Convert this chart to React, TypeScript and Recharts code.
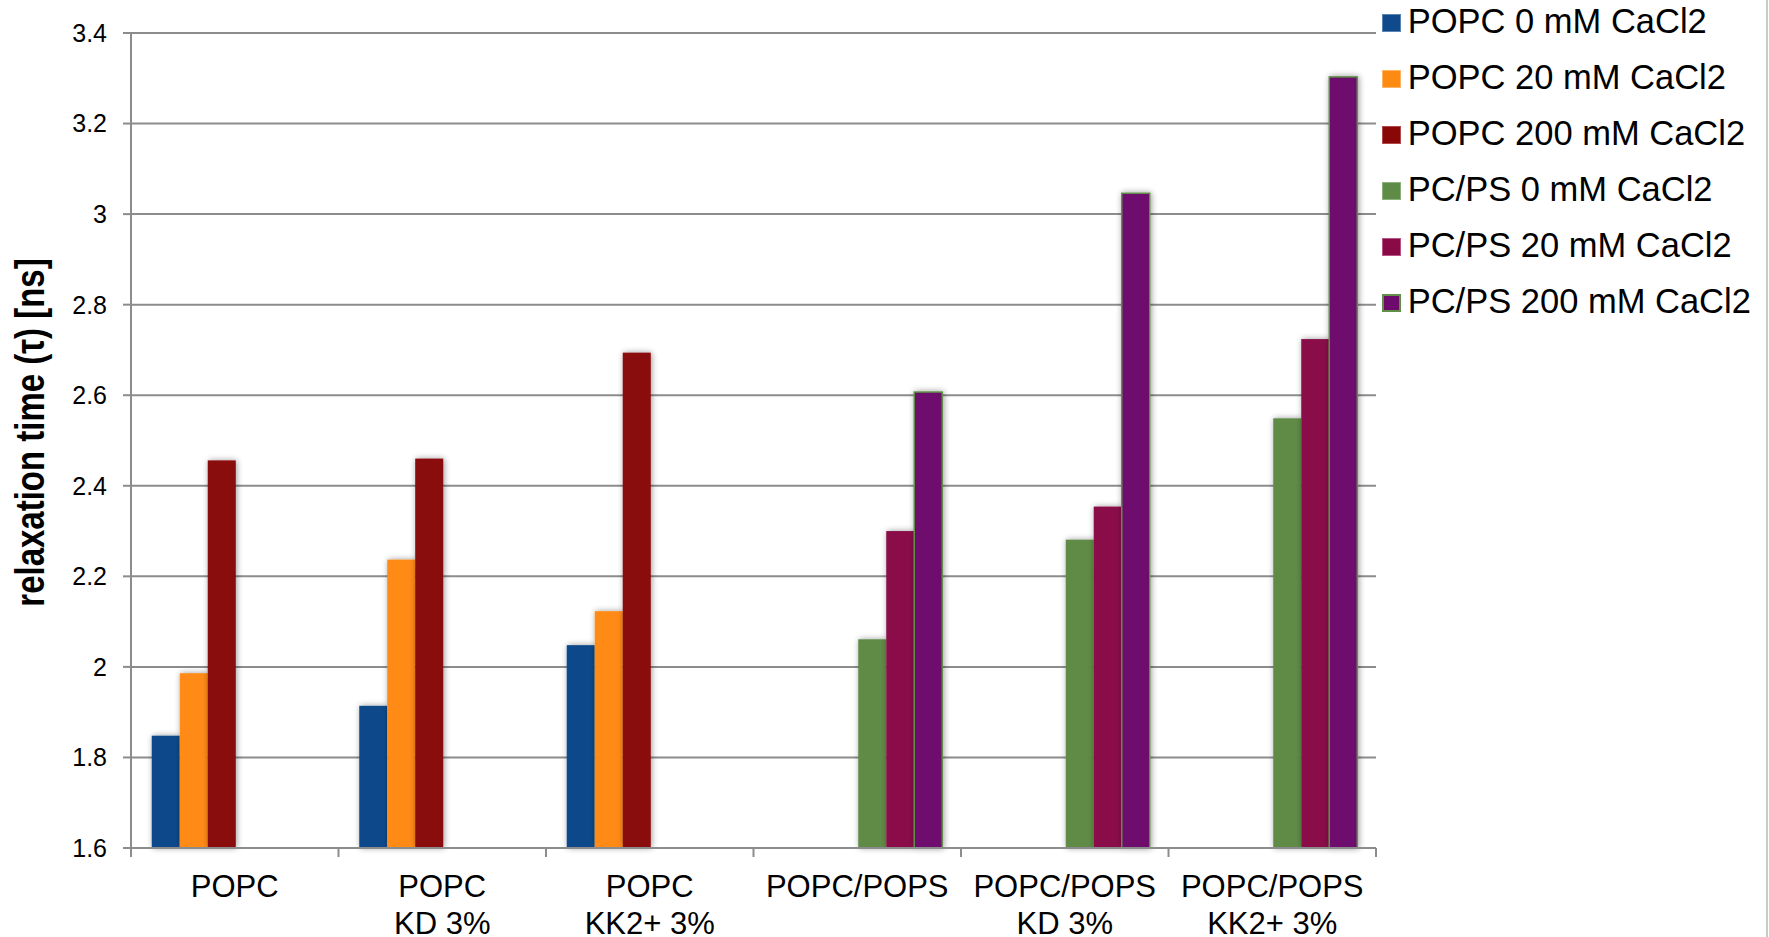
import React from 'react';
import { BarChart, Bar, XAxis, YAxis, CartesianGrid, Legend } from 'recharts';

// Sample groups along the x axis ("\n" splits a label over two lines)
const categories = [
  'POPC',
  'POPC\nKD 3%',
  'POPC\nKK2+ 3%',
  'POPC/POPS',
  'POPC/POPS\nKD 3%',
  'POPC/POPS\nKK2+ 3%',
];

// Relaxation times (ns) per series; null where the series was not measured
const popc0 = [1.848, 1.914, 2.048, null, null, null];
const popc20 = [1.986, 2.237, 2.123, null, null, null];
const popc200 = [2.456, 2.46, 2.694, null, null, null];
const pcps0 = [null, null, null, 2.061, 2.281, 2.549];
const pcps20 = [null, null, null, 2.3, 2.354, 2.724];
const pcps200 = [null, null, null, 2.607, 3.046, 3.303];

const yTicks = [1.6, 1.8, 2, 2.2, 2.4, 2.6, 2.8, 3, 3.2, 3.4];

const seriesNames = [
  'POPC 0 mM CaCl2',
  'POPC 20 mM CaCl2',
  'POPC 200 mM CaCl2',
  'PC/PS 0 mM CaCl2',
  'PC/PS 20 mM CaCl2',
  'PC/PS 200 mM CaCl2',
];
const seriesValues = [popc0, popc20, popc200, pcps0, pcps20, pcps200];
const seriesColors = ['#0f4a8a', '#ff8a12', '#8a0708', '#5e8b46', '#8a0a48', '#6e0a6e'];
const seriesEdges = ['#5a82b4', '#ffb466', '#b04a4a', '#8db07c', '#b65483', '#5f8f48'];
const seriesOutline: (string | null)[] = [null, null, null, null, null, '#5f8f48'];

const FONT = '"Liberation Sans", Arial, Helvetica, sans-serif';
const AXIS_GRAY = '#8c8c8c';

const seriesKeys = seriesNames.map((_, i) => `s${i}`);

const data = categories.map((category, i) => {
  const row: Record<string, string | number | null> = { category };
  seriesValues.forEach((vals, s) => {
    row[seriesKeys[s]] = vals[i];
  });
  return row;
});

const makeShape = (outline: string | null) => (props: any) => {
  const { x, y, width, height, fill } = props;
  if (height == null || height <= 0 || !width) return <g />;
  return (
    <rect
      x={x}
      y={y}
      width={width}
      height={height}
      fill={fill}
      stroke={outline ?? 'none'}
      strokeWidth={outline ? 1.5 : 0}
      filter="url(#barShadow)"
    />
  );
};

const CategoryTick = (props: any) => {
  const { x, y, payload, index } = props;
  const half = typeof payload?.offset === 'number' ? payload.offset : 0;
  const lines = String(payload.value).split('\n');
  return (
    <g>
      <line x1={x - half} x2={x - half} y1={y} y2={y + 9} stroke={AXIS_GRAY} strokeWidth={2} />
      {index === categories.length - 1 && (
        <line x1={x + half} x2={x + half} y1={y} y2={y + 9} stroke={AXIS_GRAY} strokeWidth={2} />
      )}
      <text x={x} y={y} textAnchor="middle" fontSize={31} fill="#000" fontFamily={FONT}>
        {lines.map((line, i) => (
          <tspan key={i} x={x} dy={i === 0 ? 49 : 37}>
            {line}
          </tspan>
        ))}
      </text>
    </g>
  );
};

const YTitle = (props: any) => {
  const vb = props.viewBox || { x: 0, y: 0, width: 0, height: 0 };
  const cx = vb.x + 44;
  const cy = vb.y + vb.height / 2 - 8;
  return (
    <text
      transform={`translate(${cx},${cy}) rotate(-90) scale(0.825,1)`}
      x={0}
      y={0}
      textAnchor="middle"
      fontSize={40}
      fontWeight="bold"
      fill="#000"
      fontFamily={FONT}
    >
      relaxation time (τ) [ns]
    </text>
  );
};

const LegendList = () => (
  <div style={{ fontFamily: FONT, fontSize: 34.5, color: '#000' }}>
    {seriesNames.map((name, i) => (
      <div
        key={name}
        style={{ display: 'flex', alignItems: 'center', height: 56, lineHeight: '56px', whiteSpace: 'nowrap' }}
      >
        <span
          style={{
            display: 'inline-block',
            width: 18.7,
            height: 18.7,
            boxSizing: 'border-box',
            background: seriesColors[i],
            border: `${seriesOutline[i] ? 2 : 1}px solid ${seriesEdges[i]}`,
            position: 'relative',
            top: 2,
            marginRight: 7,
          }}
        />
        <span>{name}</span>
      </div>
    ))}
  </div>
);

const tickFormat = (v: number) => String(Number(v.toFixed(1)));

export default function App() {
  return (
    <div
      style={{
        position: 'absolute',
        left: 0,
        top: 0,
        width: 1769,
        height: 937,
        background: '#fff',
        overflow: 'hidden',
      }}
    >
      <svg width={0} height={0} style={{ position: 'absolute' }}>
        <defs>
          <filter id="barShadow" filterUnits="userSpaceOnUse" x={0} y={0} width={1769} height={937}>
            <feGaussianBlur in="SourceAlpha" stdDeviation={3} />
            <feOffset dx={1} dy={0} result="blurred" />
            <feComponentTransfer>
              <feFuncA type="linear" slope={0.4} />
            </feComponentTransfer>
            <feMerge>
              <feMergeNode />
              <feMergeNode in="SourceGraphic" />
            </feMerge>
          </filter>
        </defs>
      </svg>
      <BarChart
        width={1769}
        height={937}
        data={data}
        margin={{ top: 33, right: 393, bottom: 0, left: 0 }}
        barCategoryGap="10%"
        barGap={0}
      >
        <CartesianGrid vertical={false} stroke={AXIS_GRAY} strokeWidth={2} />
        <XAxis
          dataKey="category"
          height={89}
          interval={0}
          tickSize={0}
          tickMargin={0}
          tickLine={false}
          axisLine={{ stroke: AXIS_GRAY, strokeWidth: 2 }}
          tick={<CategoryTick />}
        />
        <YAxis
          type="number"
          domain={[1.6, 3.4]}
          ticks={yTicks}
          interval={0}
          width={131}
          tickSize={8}
          tickMargin={16}
          tickFormatter={tickFormat}
          axisLine={{ stroke: AXIS_GRAY, strokeWidth: 2 }}
          tickLine={{ stroke: AXIS_GRAY, strokeWidth: 2 }}
          tick={{ fontSize: 25, fill: '#000', fontFamily: FONT }}
          label={<YTitle />}
        />
        <Legend
          layout="vertical"
          align="center"
          verticalAlign="middle"
          wrapperStyle={{ left: 1382, top: -7, width: 385 }}
          content={<LegendList />}
        />
        {seriesKeys.map((key, i) => (
          <Bar
            key={key}
            dataKey={key}
            name={seriesNames[i]}
            fill={seriesColors[i]}
            isAnimationActive={false}
            shape={makeShape(seriesOutline[i])}
          />
        ))}
      </BarChart>
      <div
        style={{
          position: 'absolute',
          left: 1766,
          top: 0,
          width: 2,
          height: 937,
          background: '#cbcbc4',
        }}
      />
    </div>
  );
}
